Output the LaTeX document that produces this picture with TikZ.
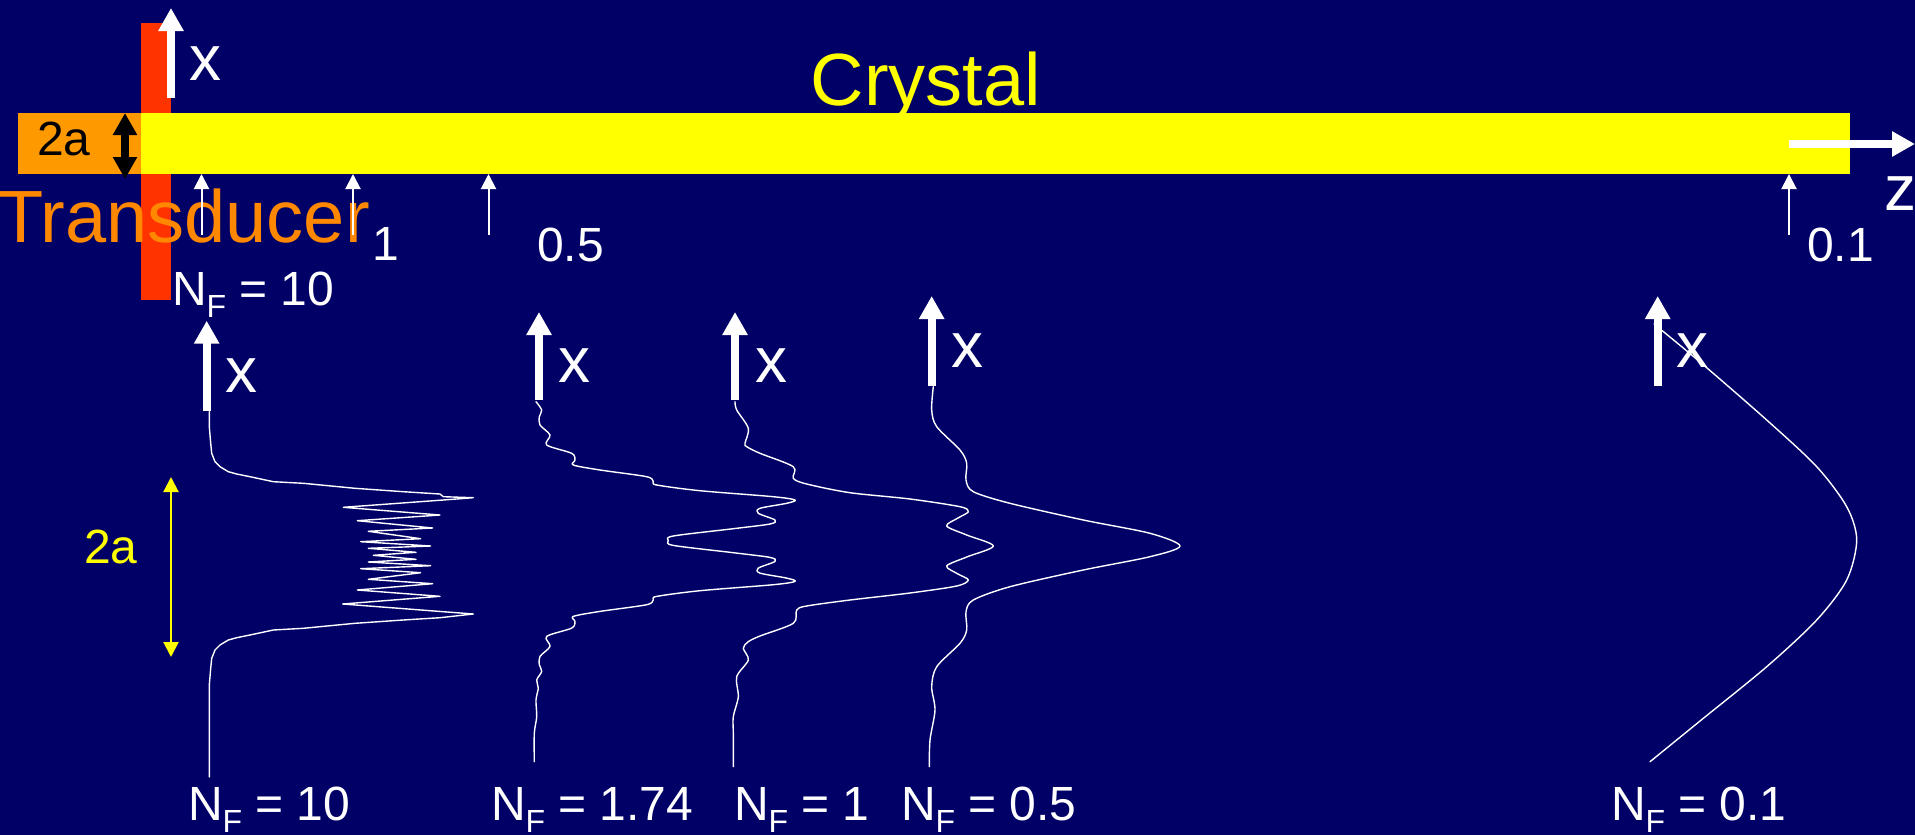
\documentclass[tikz,border=0pt]{standalone}
\usepackage{fontspec}
\setmainfont{Liberation Sans}
\usetikzlibrary{arrows.meta}
\definecolor{bg}{RGB}{0,0,102}
\definecolor{crystalY}{RGB}{255,255,0}
\definecolor{boxO}{RGB}{255,153,0}
\definecolor{barR}{RGB}{255,51,0}
\definecolor{txtO}{RGB}{255,136,0}
\newcommand\NFlab{N\raisebox{-12pt}{\fontsize{32}{32}\selectfont F}}
\begin{document}
\begin{tikzpicture}[x=1pt,y=-1pt,
  lbl/.style={inner sep=0pt,outer sep=0pt,anchor=base west,text=white,font=\fontsize{48}{50}\selectfont},
  axlbl/.style={inner sep=0pt,outer sep=0pt,anchor=base west,text=white,font=\fontsize{64}{70}\selectfont},
  fatarrow/.style={draw=white,line width=8pt,-{Triangle[width=24pt,length=23pt]}},
  thinarrow/.style={draw=white,line width=2pt,-{Triangle[width=15pt,length=15pt]}},
  curve/.style={draw=white,line width=1.4pt,line join=round,line cap=round}
]
\useasboundingbox (0,0) rectangle (1915,835);
\fill[bg] (0,0) rectangle (1915,835);

% transducer and crystal
\fill[barR] (141,23) rectangle (171,300);
\fill[boxO] (18,113) rectangle (141,174);
\fill[crystalY] (141,113) rectangle (1850,174);

% black double arrow
\coordinate (bkT) at (125,113);
\coordinate (bkB) at (125,179);
\draw[black,line width=8pt,{Triangle[width=23pt,length=22pt]}-{Triangle[width=23pt,length=22pt]}] (bkT) -- (bkB);
\node[inner sep=0pt,anchor=base west,text=black,font=\fontsize{48}{50}\selectfont] (twoa) at (37,155) {2a};

% texts
\node[inner sep=0pt,anchor=base west,text=txtO,font=\fontsize{74}{80}\selectfont] (trans) at (-2,242) {Transducer};
\node[inner sep=0pt,anchor=base,text=crystalY,font=\fontsize{74}{80}\selectfont] (crys) at (926,105) {Crystal};

% top x axis
\coordinate (axTb) at (171,98);
\coordinate (axTt) at (171,8);
\draw[fatarrow] (axTb) -- (axTt);
\node[axlbl] (xtop) at (189,80) {x};

% z axis
\coordinate (azL) at (1789,144);
\coordinate (azR) at (1915,144);
\draw[fatarrow] (azL) -- (azR);
\node[axlbl] (zlab) at (1884,210) {z};

% small position arrows
\foreach \n/\xx in {a/201.5,b/353,c/488.5,d/1789}{
  \coordinate (p\n b) at (\xx,235);
  \coordinate (p\n t) at (\xx,174);
  \draw[thinarrow] (p\n b) -- (p\n t);
}
\node[lbl] (one) at (372,260) {1};
\node[lbl] (half) at (537,261) {0.5};
\node[lbl] (tenth) at (1807,261) {0.1};
\node[lbl] (nftop) at (172,305) {\NFlab\ = 10};

% lower axes
\foreach \n/\xx/\yb/\yt in {A/206.7/410.7/320.7,B/539/400/312,C/735/400/312,D/931.7/386/296,E/1657.7/386/296}{
  \coordinate (ax\n b) at (\xx,\yb);
  \coordinate (ax\n t) at (\xx,\yt);
  \draw[fatarrow] (ax\n b) -- (ax\n t);
}
\node[axlbl] (xA) at (225,392) {x};
\node[axlbl] (xB) at (558,382) {x};
\node[axlbl] (xC) at (755,382) {x};
\node[axlbl] (xD) at (951,367) {x};
\node[axlbl] (xE) at (1676,367) {x};

% yellow 2a
\coordinate (yT) at (171,477);
\coordinate (yB) at (171,657);
\draw[crystalY,line width=2pt,{Triangle[width=15pt,length=15pt]}-{Triangle[width=15pt,length=15pt]}] (yT) -- (yB);
\node[inner sep=0pt,anchor=base west,text=crystalY,font=\fontsize{48}{50}\selectfont] (twoaY) at (84,563) {2a};

% N_F = 10 profile
\draw[curve] (209.3,411.7) -- (209.3,426.7) -- (210.7,443.3) -- (211.7,453.3) -- (215,461.7) -- (220,466.7) -- (228.3,471.7) -- (236.7,474) -- (250,476.7) -- (273.3,481.7) -- (303.3,483.3) -- (355,488.3) -- (403.3,491.7) -- (440,494) -- (443.3,496.7) -- (473.3,497.7)
 -- (443.3,500) -- (343.3,507.3) -- (440,515) -- (357.3,520.7) -- (432.7,528) -- (368.3,531.3) -- (420.7,538.7) -- (360.7,541.7) -- (430.7,546) -- (368.3,548.3) -- (416,552.3) -- (373.3,555.3) -- (416,559.3) -- (368.3,562) -- (430.7,565.7) -- (360.7,568.7) -- (420.7,572.7) -- (368.3,579.3) -- (432.7,583.7) -- (357.3,590) -- (440,596.3) -- (342.7,604) -- (443.3,611.7) -- (473.3,614)
 -- (440,617.7) -- (403.3,620) -- (355,623.3) -- (303.3,628.3) -- (273.3,630) -- (250,635) -- (236.7,637.7) -- (228.3,640) -- (220,645) -- (215,650) -- (211.7,658.3) -- (210.7,668.3) -- (209.3,685) -- (209.3,777);

% N_F = 1.74 profile
\draw[curve] plot[smooth,tension=0.5] coordinates {(536,401.7) (541.7,410) (539.3,416.7) (540,425) (550,435) (546.7,445) (571.7,453.3) (575,460) (573.3,465) (600,470) (646.7,476.7) (653.3,481.7) (656.7,485) (700,490.7) (773.3,496.7) (795,500) (786.7,503.3) (760,508.3) (758.3,513.3) (775,520) (770,524) (733.3,528.7) (673.3,536) (668.3,540.7) (673.3,545.4) (733.3,552.7) (770,557.4) (775,561.4) (758.3,568.1) (760,573.1) (786.7,578.1) (795,581.4) (773.3,584.7) (700,590.7) (656.7,596.4) (653.3,599.7) (646.7,604.7) (600,611.4) (573.3,616.4) (575,621.4) (571.7,628.1) (546.7,636.4) (550,646.4) (540,656.4) (539.3,664.7) (541.7,671.4) (536.7,680) (538.3,688) (536,700) (536.7,716.7) (534.3,733.3) (534.3,761.7)};

% N_F = 1 profile
\draw[curve] plot[smooth,tension=0.5] coordinates {(735,401.7) (736.7,410) (748.3,428.3) (745,443.3) (746.7,446.7) (760,453.3) (793.3,466.7) (793.3,478.3) (806.7,484) (850,492.7) (910,499) (960,506.7) (968.3,511.7) (958,518) (946.7,526) (966.7,535) (993.3,546) (966.7,557) (946.7,566) (958,574) (968.3,580) (956.7,586) (910,593) (850,600) (806.7,606) (796.7,610) (793.3,623.3) (760,636) (748.3,641.7) (743.3,648.3) (748.3,660) (736.7,676.7) (738.3,696.7) (733.3,716.7) (733.3,733.3) (733.3,766.7)};

% N_F = 0.5 profile
\draw[curve] plot[smooth,tension=0.5] coordinates {(933.3,386.7) (931.7,410) (936.7,426.7) (960,450) (966.7,463.3) (966,480) (973.3,491.7) (1010,503.3) (1083.3,520) (1150,533.3) (1180,546) (1150,556.7) (1083.3,570) (1010,586.7) (973.3,600) (966,611.7) (966.7,630) (960,643.3) (936.7,666.7) (931.7,686.7) (935,710) (930,740) (929.3,766.7)};

% N_F = 0.1 profile
\draw[curve] plot[smooth,tension=0.5] coordinates {(1654,324) (1700,362) (1766.7,420) (1816.7,466.7) (1846.7,506.7) (1856.7,540) (1846.7,580) (1816.7,620) (1766.7,666.7) (1700,721) (1650,761.7)};

% bottom labels
\node[lbl] (nfA) at (188,820) {\NFlab\ = 10};
\node[lbl] (nfB) at (491,820) {\NFlab\ = 1.74};
\node[lbl] (nfC) at (734,820) {\NFlab\ = 1};
\node[lbl] (nfD) at (901,820) {\NFlab\ = 0.5};
\node[lbl] (nfE) at (1611,820) {\NFlab\ = 0.1};
\end{tikzpicture}
\end{document}
